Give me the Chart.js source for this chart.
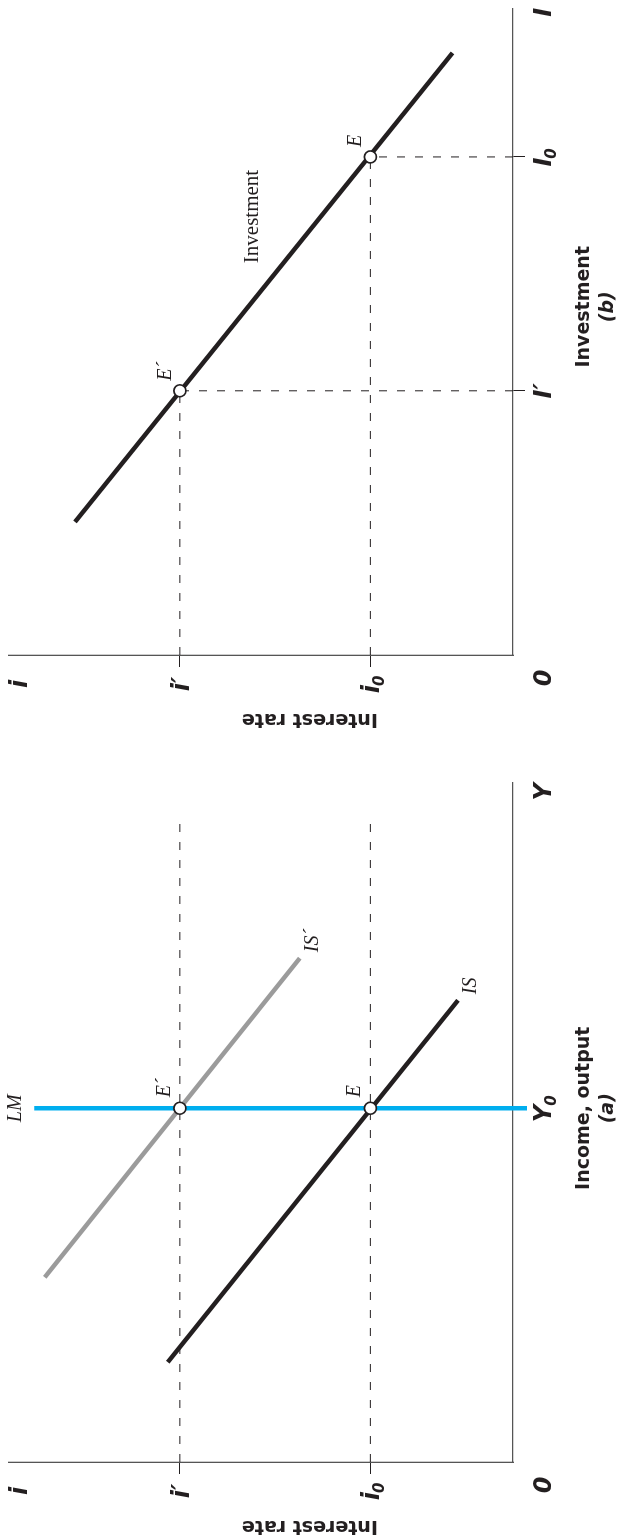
<!DOCTYPE html>
<html><head><meta charset="utf-8">
<script src="https://cdn.jsdelivr.net/npm/chart.js@4.4.1/dist/chart.umd.min.js"></script>
<style>
html,body{margin:0;padding:0;background:#fff;width:619px;height:1540px;overflow:hidden}
#wrap{position:absolute;left:0;top:0;width:1540px;height:619px;transform-origin:0 0;transform:translateY(1540px) rotate(-90deg);background:#fff}
#wrap canvas{position:absolute;top:0}
#ca{left:0}
#cb{left:770px}
</style></head><body>
<div id="wrap"><canvas id="ca" width="770" height="619"></canvas><canvas id="cb" width="770" height="619"></canvas></div>
<script>
// ---------- data (both panels use axes running 0–100) ----------
const rateLevels = [28.3, 66.1];                 // i0, i′
const rateTickValues = [28.3, 66.1, 98.2];
const rateTickLabels = ['i₀', 'i′', 'i'];

const outputY0 = 52.1;
const incomeTickValues = [52.1, 98.7];
const incomeTickLabels = ['Y₀', 'Y'];

const isX = [14.7, 68.0];
const isY = [68.5, 10.9];
const isPrimeX = [27.2, 74.2];
const isPrimeY = [92.9, 42.3];
const lmX = [52.1, 52.1];
const lmY = [95.0, -2.8];
const rateDashX = [0, 94.5];

const investLevels = [40.9, 77.1];               // I′ (at i′), I0 (at i0)
const investTickValues = [40.9, 77.1, 99.5];
const investTickLabels = ['I′', 'I₀', 'I'];
const investX = [20.6, 93.2];
const investY = [86.9, 12.0];

// ---------- styling ----------
const INK = '#231f20';
const GREY = '#9b9b9b';
const BLUE = '#00aeef';
const TICK_FONT = 'bold italic 24px "DejaVu Sans"';
const SUB_FONT = 'bold italic 15px "DejaVu Sans"';
const TITLE_FONT = 'bold 19px "DejaVu Sans"';
const TITLE_FONT_IT = 'bold italic 19px "DejaVu Sans"';
const SERIF_IT = 'italic 20px "Liberation Serif"';
const SERIF = '21px "Liberation Serif"';

const pts = (xs, ys) => xs.map((x, i) => ({ x, y: ys[i] }));

function lineSet(data, color, width, dash) {
  return { data, showLine: true, borderColor: color, borderWidth: width, borderDash: dash || [],
           pointRadius: 0, fill: false, tension: 0, clip: false };
}
function pointSet(data) {
  return { data, showLine: false, pointRadius: 6, pointBackgroundColor: '#fff',
           pointBorderColor: INK, pointBorderWidth: 1.6, clip: false };
}

function axis(values, marked) {
  return {
    type: 'linear', min: 0, max: 100,
    afterBuildTicks: s => { s.ticks = values.map(v => ({ value: v })); },
    afterFit: s => { if (s.isHorizontal()) s.height = 0; else s.width = 0; },
    ticks: { display: false },
    grid: { display: true, drawOnChartArea: false, drawTicks: true, tickLength: 12, tickWidth: 1,
            tickColor: c => (c.tick && marked.includes(c.tick.value)) ? INK : 'rgba(0,0,0,0)' },
    border: { display: true, color: '#555', width: 1.3 }
  };
}

function drawSubText(ctx, str, cx, baseline) {
  let base = str, sub = '';
  if (str.endsWith('₀')) { base = str.slice(0, -1); sub = '0'; }
  ctx.font = TICK_FONT;
  const w = ctx.measureText(base).width;
  ctx.font = SUB_FONT;
  const ws = sub ? ctx.measureText(sub).width : 0;
  const x0 = cx - (w + ws) / 2;
  ctx.textAlign = 'left'; ctx.textBaseline = 'alphabetic';
  ctx.font = TICK_FONT; ctx.fillText(base, x0, baseline);
  if (sub) { ctx.font = SUB_FONT; ctx.fillText(sub, x0 + w - 1, baseline + 5); }
}

const figText = {
  id: 'figText',
  afterDraw(chart, args, o) {
    const ctx = chart.ctx, a = chart.chartArea, xs = chart.scales.x, ys = chart.scales.y;
    ctx.save();
    ctx.fillStyle = INK;
    o.yTicks.forEach((v, i) => drawSubText(ctx, o.yLabels[i], a.left - 29, ys.getPixelForValue(v) + 9));
    o.xTicks.forEach((v, i) => drawSubText(ctx, o.xLabels[i], xs.getPixelForValue(v), a.bottom + 38));
    drawSubText(ctx, '0', a.left - 23, a.bottom + 38);
    const tx = xs.getPixelForValue(o.xTitleAt);
    ctx.textAlign = 'center'; ctx.textBaseline = 'alphabetic';
    ctx.font = TITLE_FONT; ctx.fillText(o.xTitle, tx, a.bottom + 76);
    ctx.font = TITLE_FONT_IT; ctx.fillText(o.panel, tx, a.bottom + 100);
    ctx.save();
    ctx.translate(a.left - 64, ys.getPixelForValue(o.yTitleAt));
    ctx.rotate(-Math.PI / 2);
    ctx.font = TITLE_FONT; ctx.textBaseline = 'middle'; ctx.textAlign = 'center';
    ctx.fillText(o.yTitle, 0, 0);
    ctx.restore();
    o.notes.forEach(n => {
      ctx.font = n.font || SERIF_IT; ctx.textAlign = n.align || 'left'; ctx.textBaseline = 'alphabetic';
      ctx.fillText(n.text, xs.getPixelForValue(n.x) + (n.dx || 0), ys.getPixelForValue(n.y) + (n.dy || 0));
    });
    ctx.restore();
  }
};

const common = {
  responsive: false, animation: false, devicePixelRatio: 1, events: [],
  plugins: { legend: { display: false }, tooltip: { enabled: false } }
};

// ---------- panel (a) ----------
new Chart(document.getElementById('ca'), {
  type: 'scatter',
  data: { datasets: [
    pointSet([{ x: outputY0, y: rateLevels[1] }, { x: outputY0, y: rateLevels[0] }]),
    lineSet(pts(lmX, lmY), BLUE, 4.5),
    lineSet(pts(isX, isY), INK, 4.5),
    lineSet(pts(isPrimeX, isPrimeY), GREY, 4.5),
    lineSet(pts(rateDashX, [rateLevels[0], rateLevels[0]]), INK, 1, [8, 10]),
    lineSet(pts(rateDashX, [rateLevels[1], rateLevels[1]]), INK, 1, [8, 10])
  ]},
  options: Object.assign({}, common, {
    layout: { padding: { left: 78, right: 13, top: 9, bottom: 106 } },
    scales: { x: axis(incomeTickValues, []), y: axis(rateTickValues, rateLevels) },
    plugins: Object.assign({}, common.plugins, { figText: {
      yTicks: rateTickValues, yLabels: rateTickLabels,
      xTicks: incomeTickValues, xLabels: incomeTickLabels,
      xTitle: 'Income, output', panel: '(a)', xTitleAt: outputY0,
      yTitle: 'Interest rate', yTitleAt: 40.3,
      notes: [
        { text: 'LM', x: lmX[0], y: lmY[0], dy: -13, align: 'center' },
        { text: 'E´', x: outputY0, y: rateLevels[1], dx: 11, dy: -10 },
        { text: 'E', x: outputY0, y: rateLevels[0], dx: 11, dy: -10 },
        { text: 'IS', x: isX[1], y: isY[1], dx: 6, dy: 18 },
        { text: 'IS´', x: isPrimeX[1], y: isPrimeY[1], dx: 6, dy: 18 }
      ]
    }})
  }),
  plugins: [figText]
});

// ---------- panel (b) ----------
new Chart(document.getElementById('cb'), {
  type: 'scatter',
  data: { datasets: [
    pointSet([{ x: investLevels[0], y: rateLevels[1] }, { x: investLevels[1], y: rateLevels[0] }]),
    lineSet(pts(investX, investY), INK, 4.5),
    lineSet(pts([0, investLevels[0]], [rateLevels[1], rateLevels[1]]), INK, 1, [8, 10]),
    lineSet(pts([0, investLevels[1]], [rateLevels[0], rateLevels[0]]), INK, 1, [8, 10]),
    lineSet(pts([investLevels[0], investLevels[0]], [0, rateLevels[1]]), INK, 1, [8, 10]),
    lineSet(pts([investLevels[1], investLevels[1]], [0, rateLevels[0]]), INK, 1, [8, 10])
  ]},
  options: Object.assign({}, common, {
    layout: { padding: { left: 115, right: 9, top: 9, bottom: 106 } },
    scales: { x: axis(investTickValues, investLevels), y: axis(rateTickValues, rateLevels) },
    plugins: Object.assign({}, common.plugins, { figText: {
      yTicks: rateTickValues, yLabels: rateTickLabels,
      xTicks: investTickValues, xLabels: investTickLabels,
      xTitle: 'Investment', panel: '(b)', xTitleAt: 53.9,
      yTitle: 'Interest rate', yTitleAt: 40.3,
      notes: [
        { text: 'E´', x: investLevels[0], y: rateLevels[1], dx: 10, dy: -9 },
        { text: 'E', x: investLevels[1], y: rateLevels[0], dx: 10, dy: -9 },
        { text: 'Investment', x: 75.1, y: 50.6, align: 'right', font: SERIF }
      ]
    }})
  }),
  plugins: [figText]
});
</script>
</body></html>
